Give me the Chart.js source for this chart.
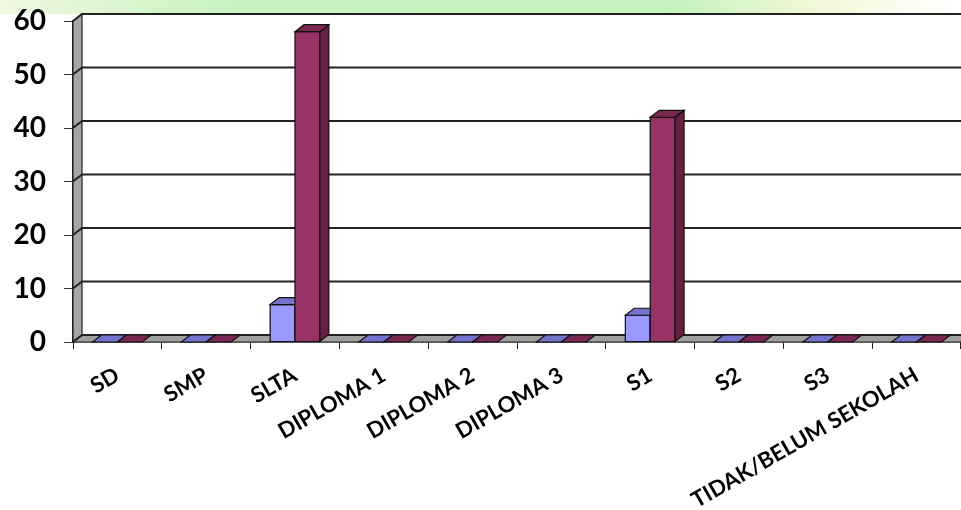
<!DOCTYPE html>
<html>
<head>
<meta charset="utf-8">
<script src="https://cdn.jsdelivr.net/npm/chart.js@4.4.1/dist/chart.umd.min.js"></script>
<style>
    html, body { margin: 0; padding: 0; background: #fff; }
    #wrap { width: 961px; height: 510px; position: relative; }
</style>
</head>
<body>
<div id="wrap"><canvas id="eduChart"></canvas></div>
<script>
const categories = ['SD', 'SMP', 'SLTA', 'DIPLOMA 1', 'DIPLOMA 2', 'DIPLOMA 3', 'S1', 'S2', 'S3', 'TIDAK/BELUM SEKOLAH'];
const seriesA = [0, 0, 7, 0, 0, 0, 5, 0, 0, 0];
const seriesB = [0, 0, 58, 0, 0, 0, 42, 0, 0, 0];
const yTicks = [0, 10, 20, 30, 40, 50, 60];

const DX = 9, DY = -7;

function shade(ctx, pts, fill) {
    ctx.beginPath();
    ctx.moveTo(pts[0][0], pts[0][1]);
    for (let i = 1; i < pts.length; i++) ctx.lineTo(pts[i][0], pts[i][1]);
    ctx.closePath();
    ctx.fillStyle = fill;
    ctx.fill();
    ctx.stroke();
}

const faceColors = [
    { front: '#9999ff', top: '#7373cc', side: '#6666b3' },
    { front: '#993366', top: '#7a2852', side: '#652042' },
];

const threeD = {
    id: 'threeD',
    beforeDraw(chart) {
        const { ctx, width } = chart;
        ctx.save();
        ctx.fillStyle = '#ffffff';
        ctx.fillRect(0, 0, width, chart.height);
        const g = ctx.createLinearGradient(0, 0, width, 0);
        g.addColorStop(0, '#eef8e0');
        g.addColorStop(0.25, '#c8f2c0');
        g.addColorStop(0.7, '#c4f2bc');
        g.addColorStop(0.85, '#f2f8d8');
        g.addColorStop(1, '#ffffff');
        ctx.fillStyle = g;
        ctx.fillRect(0, 0, width, 14);
        ctx.restore();
    },
    beforeDatasetsDraw(chart) {
        const { ctx, chartArea: a, scales: { y } } = chart;
        const top = y.getPixelForValue(60), base = y.getPixelForValue(0);
        ctx.save();
        ctx.lineWidth = 1.2;
        ctx.strokeStyle = '#222';
        ctx.fillStyle = '#fff';
        ctx.fillRect(a.left + DX, top + DY, a.right - a.left, base - top);
        // left wall
        shade(ctx, [[a.left, top], [a.left + DX, top + DY], [a.left + DX, base + DY], [a.left, base]], '#a6a6a6');
        // floor
        shade(ctx, [[a.left, base], [a.left + DX, base + DY], [a.right + DX, base + DY], [a.right, base]], '#a0a0a0');
        // gridlines on back wall
        ctx.lineWidth = 2;
        yTicks.forEach(t => {
            const py = y.getPixelForValue(t);
            ctx.beginPath();
            ctx.moveTo(a.left, py);
            ctx.lineTo(a.left + DX, py + DY);
            ctx.lineTo(a.right + DX, py + DY);
            ctx.stroke();
        });
        ctx.restore();
    },
    afterDatasetsDraw(chart) {
        const { ctx } = chart;
        const metas = [chart.getDatasetMeta(0), chart.getDatasetMeta(1)];
        ctx.save();
        ctx.lineWidth = 1.2;
        ctx.strokeStyle = '#111';
        categories.forEach((_, i) => {
            metas.forEach((meta, d) => {
                const c = faceColors[d];
                const p = meta.data[i].getProps(['x', 'y', 'base', 'width'], true);
                const l = p.x - p.width / 2, r = p.x + p.width / 2;
                if (p.base - p.y > 0.5) {
                    shade(ctx, [[l, p.y], [r, p.y], [r, p.base], [l, p.base]], c.front);
                    shade(ctx, [[r, p.y], [r + DX, p.y + DY], [r + DX, p.base + DY], [r, p.base]], c.side);
                }
                shade(ctx, [[l, p.y], [l + DX, p.y + DY], [r + DX, p.y + DY], [r, p.y]], c.top);
            });
        });
        ctx.restore();
    }
};

new Chart(document.getElementById('eduChart'), {
    type: 'bar',
    data: {
        labels: categories,
        datasets: [{
            data: seriesA,
            backgroundColor: '#9999ff',
            borderColor: '#111',
            borderWidth: 1.2,
            borderSkipped: false,
        }, {
            data: seriesB,
            backgroundColor: '#993366',
            borderColor: '#111',
            borderWidth: 1.2,
            borderSkipped: false,
        }],
    },
    options: {
        responsive: true,
        maintainAspectRatio: false,
        animation: false,
        categoryPercentage: 0.56,
        barPercentage: 1,
        layout: { padding: { top: 21, right: 0, left: 0, bottom: 0 } },
        plugins: { legend: { display: false }, tooltip: { enabled: false } },
        scales: {
            x: {
                grid: { drawOnChartArea: false, drawTicks: true, tickLength: 7, color: '#222', offset: true },
                border: { display: true, color: '#222', width: 1.5 },
                ticks: {
                    autoSkip: false,
                    minRotation: 30,
                    maxRotation: 30,
                    padding: 13,
                    color: '#000',
                    font: { family: 'Lato', weight: 'bold', size: 22 },
                },
                afterFit(scale) {
                    scale.height = 168;
                    scale.paddingLeft = 0;
                    scale.paddingRight = 0;
                },
            },
            y: {
                min: 0,
                max: 60,
                ticks: {
                    stepSize: 10,
                    padding: 18,
                    color: '#000',
                    font: { family: 'Lato', weight: 'bold', size: 28 },
                },
                grid: { drawOnChartArea: false, drawTicks: true, tickLength: 9, color: '#333' },
                border: { display: true, color: '#222', width: 1.5 },
                afterFit(scale) {
                    scale.width = 73;
                    scale.paddingTop = 0;
                    scale.paddingBottom = 0;
                },
            },
        },
    },
    plugins: [threeD],
});
</script>
</body>
</html>
